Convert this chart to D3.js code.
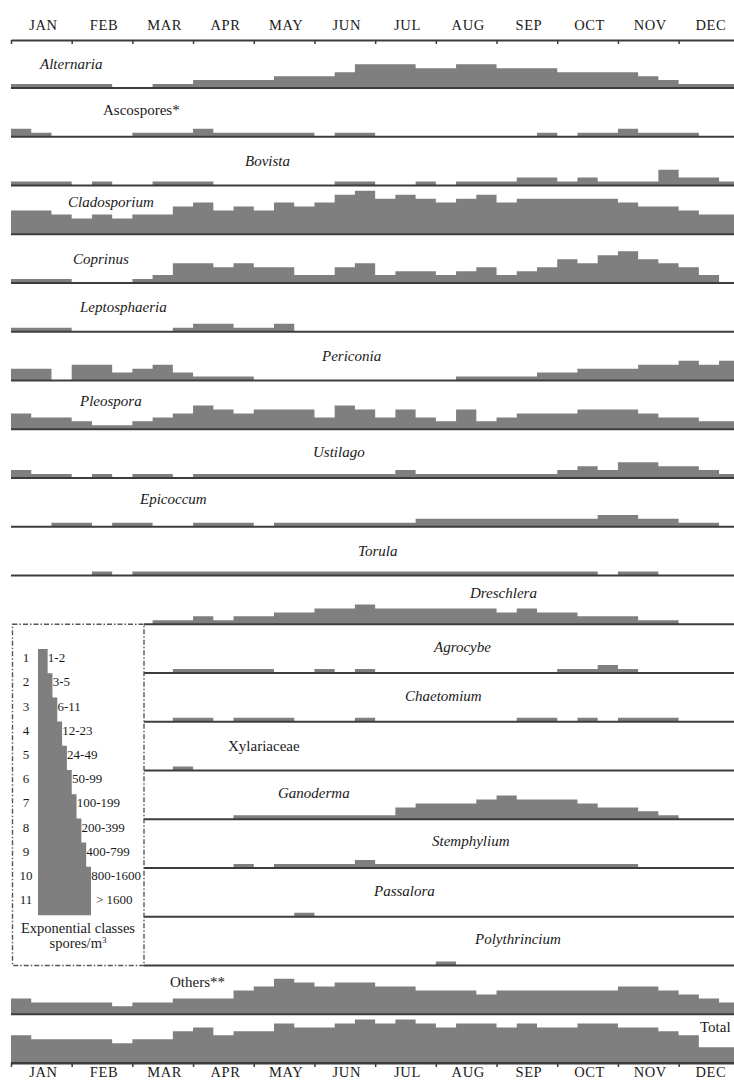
<!DOCTYPE html>
<html>
<head>
<meta charset="utf-8">
<script src="https://cdn.jsdelivr.net/npm/d3@7"></script>
<style>
  body { margin: 0; background: #fff; }
  svg { display: block; font-family: "Liberation Serif", "Times New Roman", serif; }
</style>
</head>
<body>
<svg id="chart"></svg>
<script>
// spore calendar, 36 ten-day periods, values are exponential classes 0-11
const months = ["JAN", "FEB", "MAR", "APR", "MAY", "JUN", "JUL", "AUG", "SEP", "OCT", "NOV", "DEC"];

const taxa = ["Alternaria", "Ascospores*", "Bovista", "Cladosporium", "Coprinus", "Leptosphaeria",
  "Periconia", "Pleospora", "Ustilago", "Epicoccum", "Torula", "Dreschlera", "Agrocybe",
  "Chaetomium", "Xylariaceae", "Ganoderma", "Stemphylium", "Passalora", "Polythrincium",
  "Others**", "Total"];

const alternaria    = [1,1,1,1,1,0,0,1,1,2,2,2,2,3,3,3,4,6,6,6,5,5,6,6,5,5,5,4,4,4,4,3,2,1,1,1];
const ascospores    = [2,1,0,0,0,0,1,1,1,2,1,1,1,1,1,0,1,1,0,0,0,0,0,0,0,0,1,0,1,1,2,1,1,1,0,0];
const bovista       = [1,1,1,0,1,0,0,1,1,1,0,0,0,0,0,0,1,1,0,0,1,0,1,1,1,2,2,1,2,1,1,1,4,2,2,1];
const cladosporium  = [6,6,5,4,5,4,5,5,7,8,6,7,6,8,7,8,10,11,9,10,9,8,9,10,8,9,9,9,9,9,8,7,7,6,5,5];
const coprinus      = [1,1,1,0,0,0,1,2,5,5,4,5,4,4,2,2,4,5,2,3,3,2,3,4,2,3,4,6,5,7,8,6,5,4,2,0];
const leptosphaeria = [1,1,1,0,0,0,0,0,1,2,2,1,1,2,0,0,0,0,0,0,0,0,0,0,0,0,0,0,0,0,0,0,0,0,0,0];
const periconia     = [3,3,0,4,4,2,3,4,2,1,1,1,0,0,0,0,0,0,0,0,0,0,1,1,1,1,2,2,3,3,3,4,4,5,4,5];
const pleospora     = [4,3,3,2,1,1,2,3,4,6,5,4,5,5,5,3,6,5,3,5,3,2,5,2,3,4,4,4,5,5,5,4,3,3,2,2];
const ustilago      = [2,1,1,0,1,0,1,1,0,1,1,1,1,1,1,1,1,1,1,2,1,1,1,1,1,1,1,2,3,2,4,4,3,3,2,1];
const epicoccum     = [0,0,1,1,0,1,1,0,0,1,1,1,0,1,1,1,1,1,1,1,2,2,2,2,2,2,2,2,2,3,3,2,2,1,1,0];
const torula        = [0,0,0,0,1,0,1,1,1,1,1,1,1,1,1,1,1,1,1,1,1,1,1,1,1,1,1,1,1,0,1,1,0,0,0,0];
const dreschlera    = [0,0,0,0,0,0,0,1,1,2,1,2,2,3,3,4,4,5,4,4,4,4,4,4,3,4,3,3,2,2,2,1,1,0,0,0];
const agrocybe      = [null,null,null,null,null,null,null,0,1,1,1,1,1,0,0,1,0,1,0,0,0,0,0,0,0,0,0,1,1,2,1,0,0,0,0,0];
const chaetomium    = [null,null,null,null,null,null,null,0,1,1,0,1,1,1,0,0,0,1,0,0,0,0,0,0,0,1,1,0,1,0,1,1,1,0,0,0];
const xylariaceae   = [null,null,null,null,null,null,null,0,1,0,0,0,0,0,0,0,0,0,0,0,0,0,0,0,0,0,0,0,0,0,0,0,0,0,0,0];
const ganoderma     = [null,null,null,null,null,null,null,0,0,0,0,1,1,1,1,1,1,1,1,3,4,4,4,5,6,5,5,5,4,3,3,2,1,0,0,0];
const stemphylium   = [null,null,null,null,null,null,null,0,0,0,0,1,0,1,1,1,1,2,1,1,1,1,1,1,1,1,1,1,1,1,1,0,0,0,0,0];
const passalora     = [null,null,null,null,null,null,null,0,0,0,0,0,0,0,1,0,0,0,0,0,0,0,0,0,0,0,0,0,0,0,0,0,0,0,0,0];
const polythrincium = [null,null,null,null,null,null,null,0,0,0,0,0,0,0,0,0,0,0,0,0,0,1,0,0,0,0,0,0,0,0,0,0,0,0,0,0];
const others        = [4,3,3,3,3,2,3,3,4,4,4,6,7,9,8,7,8,8,7,7,6,6,6,5,6,6,6,6,6,6,7,7,6,5,4,3];
const total         = [7,6,6,6,6,5,6,6,8,9,7,8,8,10,9,9,10,11,10,11,10,9,10,10,9,10,9,9,10,10,9,9,8,7,4,4];

const series = [alternaria, ascospores, bovista, cladosporium, coprinus, leptosphaeria, periconia,
  pleospora, ustilago, epicoccum, torula, dreschlera, agrocybe, chaetomium, xylariaceae, ganoderma,
  stemphylium, passalora, polythrincium, others, total];

const uprightNames = ["Ascospores*", "Xylariaceae", "Others**", "Total"];

const classNumbers = [1, 2, 3, 4, 5, 6, 7, 8, 9, 10, 11];
const classLabels = ["1-2", "3-5", "6-11", "12-23", "24-49", "50-99", "100-199",
  "200-399", "400-799", "800-1600", "> 1600"];

// label placement: [x, offset above row baseline]
const labelPos = [[40,19],[103,22],[245,20],[68,27],[73,19],[80,20],[322,20],[80,23],[313,21],
  [140,23],[358,20],[470,26],[434,21],[405,21],[228,20],[278,21],[432,22],[374,21],[475,22],
  [170,27],[700,31]];

const W = 734, H = 1081;
const fillCol = "#7f7f7f", lineCol = "#3c3c3c", textCol = "#1a1a1a";

const svg = d3.select("#chart").attr("width", W).attr("height", H);

const x = d3.scaleLinear().domain([0, 36]).range([11, 739.3]);
const h = d3.scaleLinear().domain([0, 11]).range([0, 43.5]);
const rowY = d3.scaleLinear().domain([0, 20]).range([88, 1063]);
const monthBand = d3.scaleBand().domain(months).range([11, 739.3]);
const boxRight = 144;

// rows
series.forEach((vals, r) => {
  const base = rowY(r);
  const pts = vals.map((v, i) => ({ i, v }));
  pts.push({ i: 36, v: vals[35] });

  const area = d3.area()
    .defined(d => d.v != null)
    .x(d => x(d.i))
    .y0(base)
    .y1(d => base - h(d.v))
    .curve(d3.curveStepAfter);

  svg.append("path")
    .datum(pts)
    .attr("d", area)
    .attr("fill", fillCol);

  // Dreschlera's left part is the top of the legend box
  const startX = (vals[0] == null || r === 11) ? boxRight : x(0);
  svg.append("line")
    .attr("x1", startX).attr("x2", x(36))
    .attr("y1", base).attr("y2", base)
    .attr("stroke", lineCol).attr("stroke-width", 2);

  const name = taxa[r];
  const [lx, off] = labelPos[r];
  svg.append("text")
    .attr("x", lx)
    .attr("y", base - off)
    .attr("font-size", 15)
    .attr("font-style", uprightNames.includes(name) ? "normal" : "italic")
    .attr("fill", textCol)
    .text(name);
});

// axes
const tickIdx = [0, 3, 6, 9, 12, 15, 18, 21, 24, 27, 30, 33, 36];

const topAxis = svg.append("g")
  .attr("transform", `translate(0,${40})`)
  .call(d3.axisTop(x).tickValues(tickIdx).tickSize(-4).tickSizeOuter(0).tickFormat(""));
topAxis.select(".domain").attr("stroke", lineCol).attr("stroke-width", 2);
topAxis.selectAll(".tick line").attr("stroke", lineCol).attr("stroke-width", 1.5);

const botAxis = svg.append("g")
  .attr("transform", `translate(0,${rowY(20)})`)
  .call(d3.axisBottom(x).tickValues(tickIdx).tickSize(4).tickSizeOuter(0).tickFormat(""));
botAxis.select(".domain").attr("stroke", lineCol).attr("stroke-width", 2);
botAxis.selectAll(".tick line").attr("stroke", lineCol).attr("stroke-width", 1.5);

[30, 1077].forEach(yy => {
  svg.append("g").selectAll("text")
    .data(months)
    .join("text")
    .attr("x", d => monthBand(d) + monthBand.bandwidth() / 2 + 2)
    .attr("y", yy)
    .attr("text-anchor", "middle")
    .attr("font-size", 14.5)
    .attr("letter-spacing", 0.6)
    .attr("fill", textCol)
    .text(d => d);
});

// legend box
const boxTop = rowY(11), boxBottom = rowY(18);
svg.append("rect")
  .attr("x", 12.5).attr("y", boxTop)
  .attr("width", boxRight - 12.5).attr("height", boxBottom - boxTop)
  .attr("fill", "none")
  .attr("stroke", "#555")
  .attr("stroke-width", 1.4)
  .attr("stroke-dasharray", "5,2,1.5,2");

const legX = 38, legTop = 649, stepH = 24.2;
const legW = d3.scaleLinear().domain([0, 11]).range([0, 53]);
const legPts = classNumbers.map((c, k) => ({ c, y: legTop + k * stepH }));
legPts.push({ c: 11, y: legTop + 11 * stepH });

svg.append("path")
  .datum(legPts)
  .attr("d", d3.area()
    .y(d => d.y)
    .x0(legX)
    .x1(d => legX + legW(d.c))
    .curve(d3.curveStepAfter))
  .attr("fill", fillCol);

const leg = svg.append("g").attr("font-size", 13).attr("fill", textCol);
leg.selectAll(".num")
  .data(classNumbers)
  .join("text")
  .attr("class", "num")
  .attr("x", 26)
  .attr("y", (d, k) => legTop + k * stepH + stepH / 2 + 1)
  .attr("text-anchor", "middle")
  .text(d => d);
leg.selectAll(".rng")
  .data(classLabels)
  .join("text")
  .attr("class", "rng")
  .attr("x", (d, k) => legX + legW(classNumbers[k]) + 5)
  .attr("y", (d, k) => legTop + k * stepH + stepH / 2 + 1)
  .text(d => d);

svg.append("text")
  .attr("x", 78).attr("y", 933)
  .attr("text-anchor", "middle").attr("font-size", 14.5).attr("fill", textCol)
  .text("Exponential classes");
const unit = svg.append("text")
  .attr("x", 78).attr("y", 948)
  .attr("text-anchor", "middle").attr("font-size", 14.5).attr("fill", textCol);
unit.append("tspan").text("spores/m");
unit.append("tspan").attr("font-size", 9).attr("dy", -5).text("3");
</script>
</body>
</html>
